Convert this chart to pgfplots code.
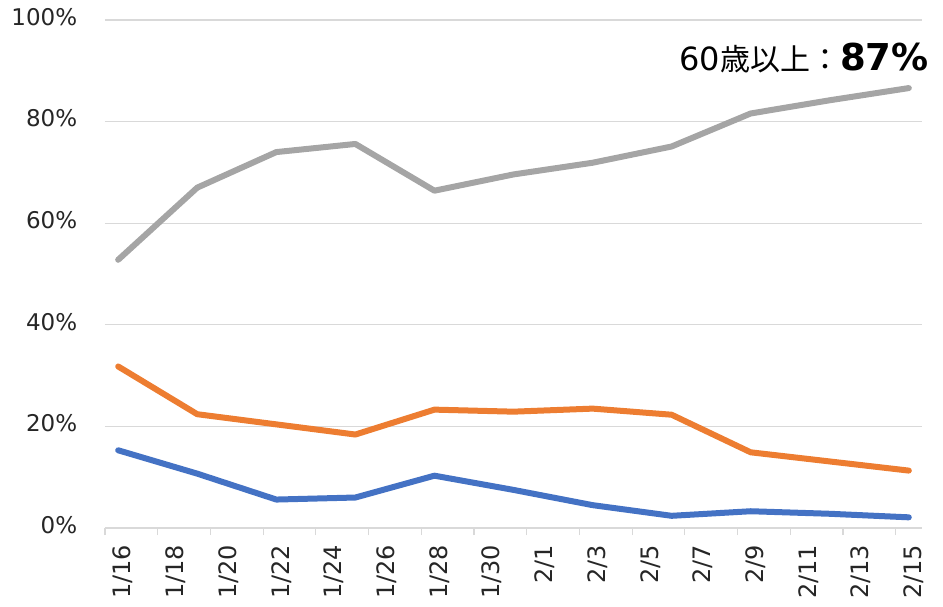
\documentclass[border=0pt]{standalone}
\usepackage{pgfplots}
\pgfplotsset{compat=1.18}
\usepackage{fontspec}
\setmainfont{DejaVu Sans}
\newfontfamily\jp{Noto Sans CJK JP}
\definecolor{cblue}{HTML}{4472C4}
\definecolor{corange}{HTML}{ED7D31}
\definecolor{cgray}{HTML}{A5A5A5}
\definecolor{cgrid}{HTML}{D9D9D9}
\begin{document}
\begin{tikzpicture}[x=1pt,y=1pt]
\useasboundingbox (0,0) rectangle (943,606);
\begin{axis}[
  at={(105pt,78pt)}, anchor=south west,
  scale only axis, width=817pt, height=508pt,
  xmin=-0.5, xmax=30.5, ymin=0, ymax=100,
  axis x line*=bottom, axis y line*=left,
  y axis line style={draw=none},
  x axis line style={draw=cgrid, line width=1.2pt},
  xtick={0,2,...,30},
  xticklabels={1/16,1/18,1/20,1/22,1/24,1/26,1/28,1/30,2/1,2/3,2/5,2/7,2/9,2/11,2/13,2/15},
  major x tick style={draw=none},
  minor xtick={-0.5,1.5,...,29.5},
  minor tick length=7pt,
  minor x tick style={draw=cgrid, line width=1.2pt},
  tick align=outside,
  ytick={0,20,...,100},
  yticklabels={0\%,20\%,40\%,60\%,80\%,100\%},
  major y tick style={draw=none},
  ymajorgrids, grid style={draw=cgrid, line width=1.2pt},
  ticklabel style={font=\fontsize{23}{27}\selectfont, text=black!85},
  xticklabel style={rotate=90, anchor=east, xshift=-9pt, yshift=-5pt, font=\fontsize{24}{27}\selectfont},
  yticklabel style={xshift=-20pt, yshift=3pt},
  clip=false,
]
\addplot[cgray, line width=6pt, line join=round, line cap=round] coordinates {
(0,52.8) (3,67.0) (6,74.0) (9,75.6) (12,66.4) (15,69.6) (18,71.9) (21,75.1) (24,81.6) (27,84.2) (30,86.6)};
\addplot[corange, line width=6pt, line join=round, line cap=round] coordinates {
(0,31.8) (3,22.4) (6,20.4) (9,18.4) (12,23.3) (15,22.9) (18,23.5) (21,22.3) (24,14.9) (27,13.1) (30,11.3)};
\addplot[cblue, line width=6pt, line join=round, line cap=round] coordinates {
(0,15.3) (3,10.7) (6,5.6) (9,6.0) (12,10.3) (15,7.5) (18,4.5) (21,2.4) (24,3.3) (27,2.8) (30,2.1)};
\end{axis}
\node[anchor=base east, inner sep=0pt, text=black] at (929,535)
  {\fontsize{32}{36}\selectfont 60{\jp\fontsize{30}{34}\selectfont 歳以上：}{\fontsize{37}{40}\selectfont\bfseries 87\%}};
\end{tikzpicture}
\end{document}
